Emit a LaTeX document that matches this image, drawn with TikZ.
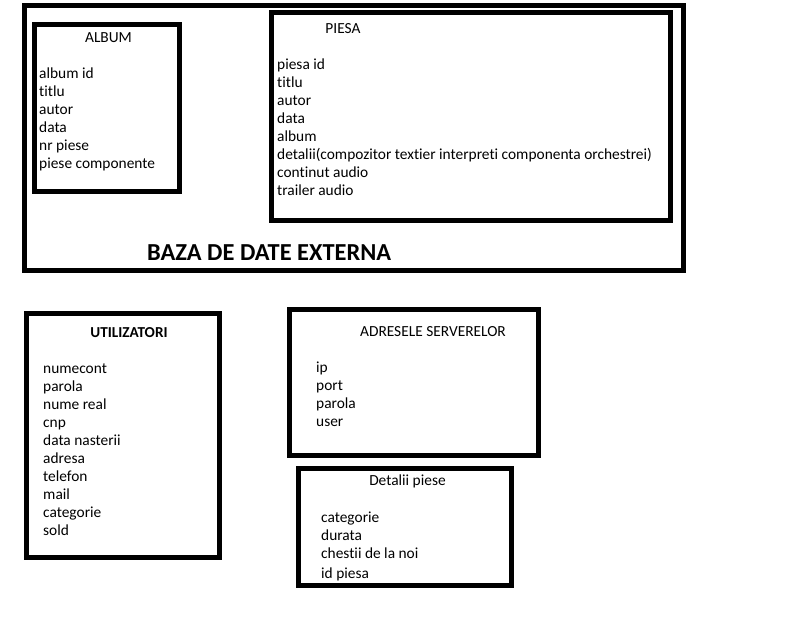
\documentclass[tikz,border=0pt]{standalone}
\usepackage{fontspec}
\setmainfont[Ligatures={NoCommon,NoRare}]{Carlito}
\begin{document}
\begin{tikzpicture}[x=1pt,y=-1pt,
  box/.style={draw=black,line width=5pt,inner sep=0pt,outer sep=0pt},
  txt/.style={anchor=base west,inner sep=0pt,font=\fontsize{15.4}{18}\selectfont},
  ttl/.style={anchor=base,inner sep=0pt,font=\fontsize{15.4}{18}\selectfont},
  bttl/.style={anchor=base,inner sep=0pt,font=\fontsize{15.2}{18}\selectfont\bfseries},
  big/.style={anchor=base west,inner sep=0pt,font=\fontsize{24.4}{28}\selectfont\bfseries}]
\useasboundingbox[fill=white] (0,0) rectangle (794,617);
% boxes
\node[box,minimum width=658.5pt,minimum height=265pt] (outer) at (353.75,138) {};
\node[box,minimum width=145pt,minimum height=167.5pt] (album) at (107,108.25) {};
\node[box,minimum width=399pt,minimum height=208pt] (piesa) at (471,116.5) {};
\node[box,minimum width=193pt,minimum height=244pt] (util) at (123,435.5) {};
\node[box,minimum width=249pt,minimum height=146pt] (adr) at (414,382.5) {};
\node[box,minimum width=213pt,minimum height=117pt] (det) at (405,527) {};
% titles
\node[ttl] (albumT) at (108.5,43) {ALBUM};
\node[ttl] (piesaT) at (343,34) {PIESA};
\node[big] (bazaT) at (147,261) {BAZA DE DATE EXTERNA};
\node[bttl] (utilT) at (129,337) {UTILIZATORI};
\node[ttl] (adrT) at (433,336) {ADRESELE SERVERELOR};
\node[ttl] (detT) at (407.5,485) {Detalii piese};
% album fields
\foreach \t [count=\i from 0] in {album id,titlu,autor,data,nr piese,piese componente}
  \node[txt] (a\i) at (39,79+18*\i) {\t};
% piesa fields
\foreach \t [count=\i from 0] in {piesa id,titlu,autor,data,album,detalii(compozitor textier interpreti componenta orchestrei),continut audio,trailer audio}
  \node[txt] (p\i) at (277,70+18*\i) {\t};
% utilizatori fields
\foreach \t [count=\i from 0] in {numecont,parola,nume real,cnp,data nasterii,adresa,telefon,mail,categorie,sold}
  \node[txt] (u\i) at (43,373+18*\i) {\t};
% adrese fields
\foreach \t [count=\i from 0] in {ip,port,parola,user}
  \node[txt] (s\i) at (316,372+18*\i) {\t};
% detalii fields
\node[txt] (d0) at (321,522) {categorie};
\node[txt] (d1) at (321,540) {durata};
\node[txt] (d2) at (321,558) {chestii de la noi};
\node[txt] (d3) at (321,578) {id piesa};
\end{tikzpicture}
\end{document}
